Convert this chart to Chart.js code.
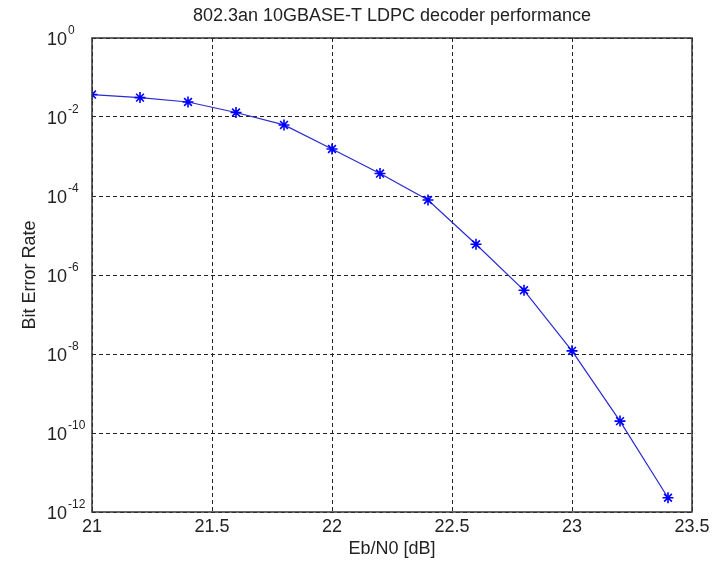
<!DOCTYPE html>
<html>
<head>
<meta charset="utf-8">
<title>802.3an 10GBASE-T LDPC decoder performance</title>
<script src="https://cdn.jsdelivr.net/npm/chart.js@4/dist/chart.umd.min.js"></script>
<style>
    html, body { margin: 0; padding: 0; background: #fff; }
    #wrap { position: relative; width: 725px; height: 563px; }
</style>
</head>
<body>
<div id="wrap"><canvas id="berChart" width="725" height="563"></canvas></div>
<script>
// Eb/N0 sweep (dB) and measured bit error rate
const ebn0 = [21, 21.2, 21.4, 21.6, 21.8, 22, 22.2, 22.4, 22.6, 22.8, 23, 23.2, 23.4];
const ber = [3.7e-2, 3.1e-2, 2.4e-2, 1.3e-2, 6.3e-3, 1.55e-3, 3.7e-4, 7.9e-5, 6.0e-6, 4.1e-7, 1.2e-8, 2.0e-10, 2.3e-12];

// axis ticks
const xTicks = [21, 21.5, 22, 22.5, 23, 23.5];
const yExponents = [0, -2, -4, -6, -8, -10, -12];

const chartTitle = "802.3an 10GBASE-T LDPC decoder performance";
const FONT = "'Liberation Sans', Arial, sans-serif";
const INK = "#222";

// draws the title (centred on the axes), the box round the axes
// and the 10^n labels with raised exponents
const matlabAxes = {
    id: "matlabAxes",
    afterDraw(chart) {
        const { ctx, chartArea: a } = chart;
        const yScale = chart.scales.y;
        ctx.save();
        ctx.strokeStyle = "#333";
        ctx.lineWidth = 1.5;
        ctx.strokeRect(a.left, a.top, a.right - a.left, a.bottom - a.top);

        ctx.fillStyle = INK;
        ctx.textBaseline = "middle";
        ctx.textAlign = "center";
        ctx.font = "18px " + FONT;
        ctx.fillText(chartTitle, (a.left + a.right) / 2, 16);

        ctx.textAlign = "left";
        yExponents.forEach(e => {
            const y = yScale.getPixelForValue(Math.pow(10, e));
            ctx.font = "18px " + FONT;
            ctx.fillText("10", 47, y + 2);
            const w = ctx.measureText("10").width;
            ctx.font = "12px " + FONT;
            ctx.fillText(e === 0 ? "0" : "-" + Math.abs(e), 47 + w + 1, y - 7);
        });
        ctx.restore();
    }
};

new Chart(document.getElementById("berChart"), {
    type: "line",
    data: {
        labels: ebn0,
        datasets: [{
            data: ebn0.map((x, i) => ({ x: x, y: ber[i] })),
            borderColor: "#2a2ad0",
            borderWidth: 1.2,
            pointStyle: "star",
            pointRadius: 5.5,
            pointBorderWidth: 1.6,
            pointBorderColor: "#0000ff",
            pointBackgroundColor: "#0000ff",
            tension: 0,
            fill: false
        }]
    },
    options: {
        responsive: false,
        animation: false,
        layout: { padding: { left: 0, right: 33, top: 38, bottom: 0 } },
        plugins: {
            legend: { display: false },
            tooltip: { enabled: false },
            title: { display: false }
        },
        scales: {
            x: {
                type: "linear",
                min: 21,
                max: 23.5,
                afterBuildTicks: s => { s.ticks = xTicks.map(v => ({ value: v })); },
                afterFit: s => { s.height = 51; },
                ticks: {
                    color: INK,
                    font: { family: FONT, size: 18 },
                    padding: 4,
                    maxRotation: 0,
                    callback: v => String(v)
                },
                grid: {
                    color: INK,
                    lineWidth: 1,
                    drawTicks: false
                },
                border: { display: false, dash: [4, 3] },
                title: {
                    display: true,
                    text: "Eb/N0 [dB]",
                    color: INK,
                    font: { family: FONT, size: 18 },
                    padding: { top: 0, bottom: 3 }
                }
            },
            y: {
                type: "logarithmic",
                min: 1e-12,
                max: 1,
                afterBuildTicks: s => { s.ticks = yExponents.map(e => ({ value: Math.pow(10, e) })); },
                afterFit: s => { s.width = 92; },
                ticks: { display: false },
                grid: {
                    color: INK,
                    lineWidth: 1,
                    drawTicks: false
                },
                border: { display: false, dash: [4, 3] },
                title: {
                    display: true,
                    text: "Bit Error Rate",
                    color: INK,
                    font: { family: FONT, size: 18 },
                    padding: { top: 19, bottom: 0 }
                }
            }
        }
    },
    plugins: [matlabAxes]
});
</script>
</body>
</html>
